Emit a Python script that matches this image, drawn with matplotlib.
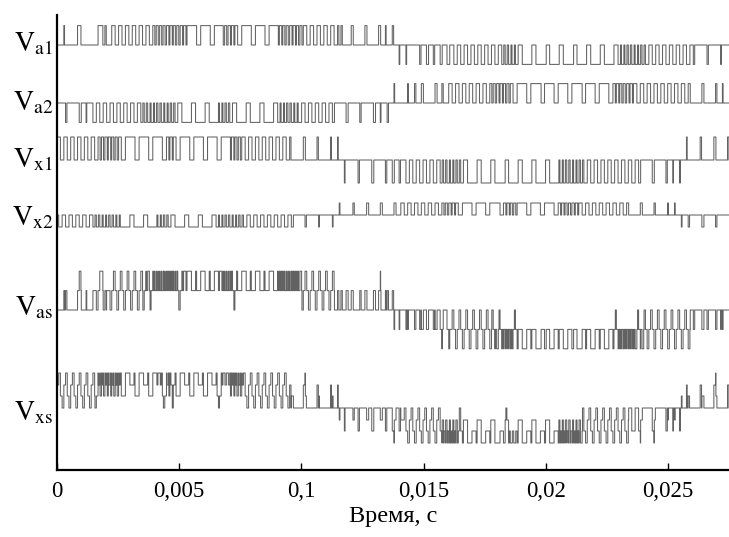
import numpy as np
import matplotlib.pyplot as plt

plt.rcParams['font.family'] = 'Liberation Serif'
plt.rcParams['mathtext.fontset'] = 'stix'

# carrier period, s
T = 0.00028
RES = 60  # samples per carrier period

# duty per carrier period in tenths (0..10)
va1_duty = [0, 1, 0, 5, 0, 0, 7, 2,
            5, 5, 5, 5, 5, 5,
            6, 6, 7, 6, 7,
            10, 4, 10, 4, 10,
            6, 7,
            4, 10, 4, 10, 4, 10,
            7, 6, 7, 6,
            5, 5, 5, 5, 5,
            4,
            0, 3, 0, 3, 0, 3, 1,
            2,
            1, 1, 0, 2,
            3, 2, 3, 4,
            5, 5, 5, 5, 5, 5, 5,
            6, 7,
            4, 10, 4, 10, 5, 10, 4, 10, 5, 10, 4, 10, 4, 10, 4,
            7, 6, 7, 6,
            5, 5, 5, 5, 5, 5, 5,
            2, 0, 2, 0, 1, 0]
va1_dense = [14, 15, 16, 17, 18, 24, 25, 32, 33, 34, 35, 41, 65, 66, 82, 83, 84, 85]

va2_duty = [0, 2, 0, 3, 1,
            5, 5, 5, 5, 5, 5, 5,
            6, 7, 6, 7, 6,
            4, 10, 4, 10, 4, 10, 7, 6,
            4, 10, 4, 10, 4, 10, 4,
            7, 6, 7,
            5, 5, 5, 5, 5,
            3, 0, 3, 0, 2, 0, 3, 1, 2,
            1, 0, 1, 2,
            3, 0, 3, 2,
            5, 5, 5, 5, 5, 5,
            6, 7, 6,
            4, 10, 4, 10, 5, 10, 4, 10, 4, 10, 5, 10, 4, 10, 4,
            7, 6, 7,
            5, 5, 5, 5, 5, 5, 5, 5,
            3, 0, 3, 0, 2, 1, 0]
va2_dense = [12, 13, 14, 15, 16, 23, 24, 32, 33, 34, 63, 64, 65, 81, 82, 83]

vx1_duty = [5, 5, 5, 5, 5, 5,
            6, 7, 6,
            4, 10, 4, 10, 4, 10, 4, 7, 4, 10, 4, 10, 4, 10, 4, 10,
            7, 6,
            5, 5, 5, 5, 5, 5, 5,
            2, 0, 3, 0, 2, 0, 1, 1,
            1, 0, 2, 0, 3, 0, 2,
            3, 2, 5, 5, 5, 5, 5,
            6, 7, 6,
            4, 10, 4, 10, 4, 10, 5, 10, 4, 10, 4, 10, 4, 10,
            7, 6, 7, 6,
            5, 5, 5, 5, 5, 5, 5, 5,
            3, 0, 3, 0, 2, 1, 1,
            1, 0, 2, 0, 3, 0, 2]
vx1_dense = [6, 7, 8, 16, 25, 26, 56, 57, 58, 73, 74, 75, 76]

vx2_duty = [5, 5, 5, 5, 5,
            6, 7, 6, 7,
            10, 4, 10, 4, 10, 7, 6, 4, 10, 4, 10, 4, 10, 4, 7, 6,
            7, 6,
            5, 5, 5, 5, 5, 5, 5,
            3, 0, 2, 0, 1, 0, 1,
            1, 0, 2, 0, 3, 0, 3, 0,
            3, 5, 5, 5, 5, 5, 5, 6, 7,
            4, 10, 4, 10, 4, 10, 5, 7, 6, 10, 4, 10, 4, 10, 4,
            7, 6, 7,
            5, 5, 5, 5, 5, 5, 5,
            3, 0, 3, 0, 2, 0, 1, 1,
            1, 2, 0, 3, 0, 2, 0, 3]
vx2_dense = [5, 6, 7, 8, 14, 15, 23, 24, 25, 26, 56, 57, 65, 66, 73, 74, 75]

# polarity: starting sign and times where it flips, s
va1_sign, va1_flips = 1, [0.0139]
va2_sign, va2_flips = -1, [0.01354]
vx1_sign, vx1_flips = 1, [0.0117, 0.02561]
vx2_sign, vx2_flips = -1, [0.01137, 0.02529]

# amplitude of each inverter leg (display units)
amps = {'a1': 0.97, 'a2': 0.97, 'x1': 1.15, 'x2': 0.6}

xticks = [0, 0.005, 0.01, 0.015, 0.02, 0.025]
xticklabels = ['0', '0,005', '0,1', '0,015', '0,02', '0,025']


def pwm(duty, dense, sign0, flips, amp, shift):
    n = len(duty) * RES
    v = np.zeros(n + RES)
    for i, d in enumerate(duty):
        s = sign0 * (-1) ** sum(i * T >= f for f in flips)
        start = i * RES + int(shift * RES)
        w = int(round(d / 10 * RES))
        if i in dense:
            for k in range(2):
                a = start + k * RES // 2
                v[a:a + w // 2] = s * amp
        else:
            v[start:start + w] = s * amp
    return v[:n]


va1 = pwm(va1_duty, va1_dense, va1_sign, va1_flips, amps['a1'], 0.0)
va2 = pwm(va2_duty, va2_dense, va2_sign, va2_flips, amps['a2'], 0.25)
vx1 = pwm(vx1_duty, vx1_dense, vx1_sign, vx1_flips, amps['x1'], 0.0)
vx2 = pwm(vx2_duty, vx2_dense, vx2_sign, vx2_flips, amps['x2'], 0.25)
vas = va1 - va2
vxs = vx1 - vx2
t = np.arange(len(va1)) * T / RES

fig = plt.figure(figsize=(7.29, 5.37), dpi=100)
ax = fig.add_axes([57 / 729, 67 / 537, 672 / 729, 455 / 537])

# zero level of each trace (display units, 20 px each)
traces = [(va1, 21.25), (va2, 18.35), (vx1, 15.5), (vx2, 12.75), (vas, 8.0), (vxs, 3.1)]
for v, off in traces:
    ax.step(t, v + off, where='post', color='#626262', lw=0.75)

ax.set_xlim(0, 0.0275)
ax.set_ylim(0, 22.75)
ax.set_xticks(xticks)
ax.set_xticklabels(xticklabels, fontsize=16.5)
ax.set_yticks([])
ax.tick_params(axis='x', direction='in', length=5, width=1, pad=8)
ax.spines['top'].set_visible(False)
ax.spines['right'].set_visible(False)
ax.spines['left'].set_linewidth(1.6)
ax.spines['bottom'].set_linewidth(1.6)
ax.set_xlabel('Время, с', fontsize=17.5, labelpad=3)

labels = [r'$\mathrm{V_{a1}}$', r'$\mathrm{V_{a2}}$', r'$\mathrm{V_{x1}}$',
          r'$\mathrm{V_{x2}}$', r'$\mathrm{V_{as}}$', r'$\mathrm{V_{xs}}$']
baselines = [51, 110, 167, 225, 315, 420]
for lab, yb in zip(labels, baselines):
    fig.text(53 / 729, 1 - yb / 537, lab, fontsize=20, ha='right', va='baseline')

fig.savefig('out.png', dpi=100)
